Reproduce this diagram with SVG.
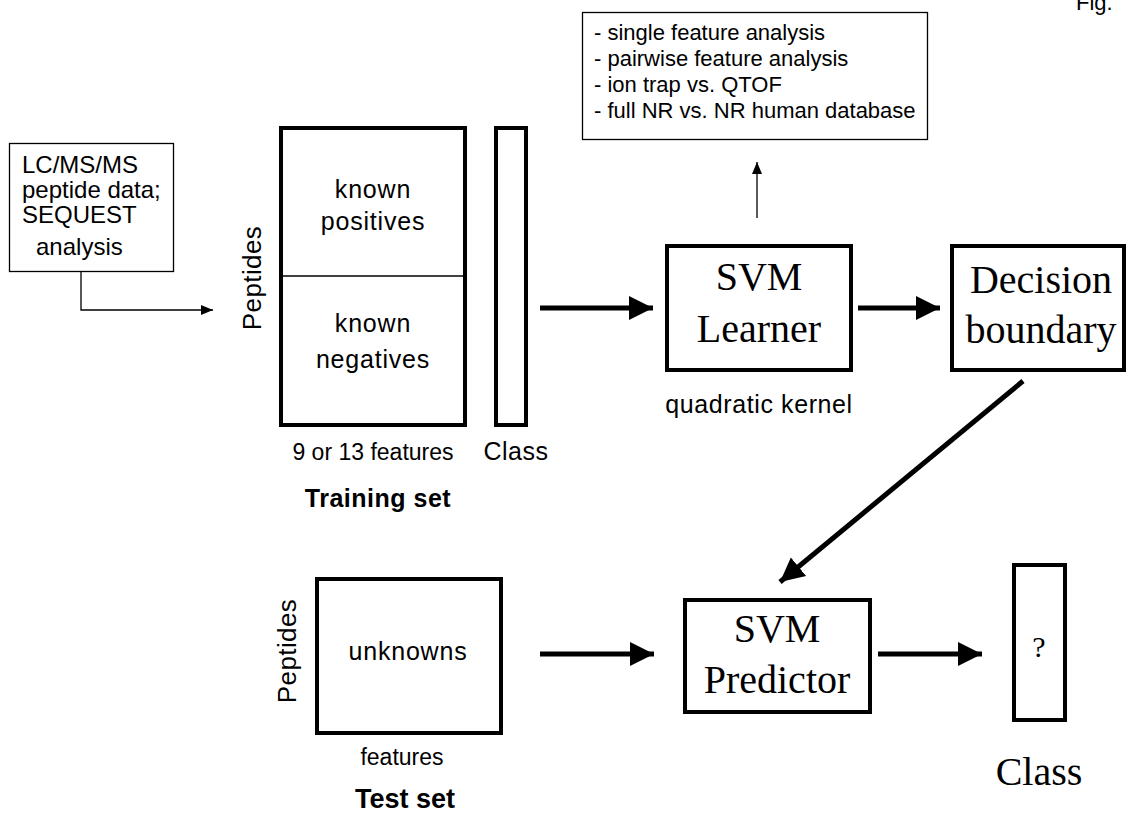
<svg xmlns="http://www.w3.org/2000/svg" width="1126" height="815" viewBox="0 0 1126 815">
<defs>
<style>
.bg{fill:#fff}
.thin{fill:#fff;stroke:#000;stroke-width:1.3}
.thick{fill:#fff;stroke:#000;stroke-width:4}
.sans{font-family:"Liberation Sans",Arial,sans-serif;fill:#000}
.serif{font-family:"Liberation Serif","Times New Roman",serif;fill:#000}
.bold{font-weight:bold}
.c{text-anchor:middle}
.sp{letter-spacing:0.8px}
.tl{stroke:#000;stroke-width:1.3;fill:none}
.tk{stroke:#000;stroke-width:5;fill:none}
</style>
<marker id="ah-thin" markerUnits="userSpaceOnUse" markerWidth="14" markerHeight="12" refX="12" refY="6" orient="auto">
<polygon points="0,1 12,6 0,11" fill="#000"/>
</marker>
<marker id="ah-thick" markerUnits="userSpaceOnUse" markerWidth="26" markerHeight="26" refX="24" refY="13" orient="auto">
<polygon points="0,1 24,13 0,25" fill="#000"/>
</marker>
</defs>
<rect class="bg" x="0" y="0" width="1126" height="815"/>

<text class="sans" x="1076" y="10" font-size="22">Fig.</text>

<g id="analysis-box">
<rect class="thin" x="582.5" y="12.5" width="345" height="127"/>
<text class="sans" font-size="22" x="594" y="40">- single feature analysis</text>
<text class="sans" font-size="22" x="594" y="66">- pairwise feature analysis</text>
<text class="sans" font-size="22" x="594" y="92">- ion trap vs. QTOF</text>
<text class="sans" font-size="22" x="594" y="118">- full NR vs. NR human database</text>
</g>

<g id="lcms-box">
<rect class="thin" x="9.5" y="143.5" width="164" height="128"/>
<text class="sans" font-size="24" x="22" y="173">LC/MS/MS</text>
<text class="sans" font-size="24" x="22" y="198">peptide data;</text>
<text class="sans" font-size="24" x="22" y="223">SEQUEST</text>
<text class="sans" font-size="24" x="36" y="255">analysis</text>
</g>

<g id="training-set">
<rect class="thick" x="281" y="128" width="184" height="297"/>
<line x1="281" y1="276" x2="465" y2="276" stroke="#000" stroke-width="1.5"/>
<text class="sans c sp" font-size="25" x="373" y="198">known</text>
<text class="sans c sp" font-size="25" x="373" y="230">positives</text>
<text class="sans c sp" font-size="25" x="373" y="332">known</text>
<text class="sans c sp" font-size="25" x="373" y="368">negatives</text>
<text class="sans c" font-size="26" letter-spacing="0.4" transform="translate(261 278) rotate(-90)">Peptides</text>
<text class="sans c" font-size="23" x="373" y="460">9 or 13 features</text>
<text class="sans bold c" font-size="25" letter-spacing="0.5" x="378" y="507">Training set</text>
</g>

<g id="training-class">
<rect class="thick" x="496" y="128" width="30" height="297"/>
<text class="sans c" font-size="25" letter-spacing="0.5" x="516" y="460">Class</text>
</g>

<g id="svm-learner">
<rect class="thick" x="667" y="246" width="184" height="124"/>
<text class="serif c" font-size="40" x="759" y="290">SVM</text>
<text class="serif c" font-size="40" x="759" y="342">Learner</text>
<text class="sans c" font-size="25" letter-spacing="0.6" x="759" y="413">quadratic kernel</text>
</g>

<g id="decision-boundary">
<rect class="thick" x="952" y="246" width="172" height="124"/>
<text class="serif c" font-size="40" x="1041" y="293">Decision</text>
<text class="serif c" font-size="40" x="1041" y="343">boundary</text>
</g>

<g id="test-set">
<rect class="thick" x="317" y="579" width="184" height="154"/>
<text class="sans c sp" font-size="25" x="408" y="660">unknowns</text>
<text class="sans c" font-size="26" letter-spacing="0.4" transform="translate(296 651) rotate(-90)">Peptides</text>
<text class="sans c" font-size="23" x="402" y="765">features</text>
<text class="sans bold c" font-size="27" x="405" y="808">Test set</text>
</g>

<g id="svm-predictor">
<rect class="thick" x="685" y="600" width="185" height="112"/>
<text class="serif c" font-size="40" x="777" y="642">SVM</text>
<text class="serif c" font-size="40" x="777" y="693">Predictor</text>
</g>

<g id="predicted-class">
<rect class="thick" x="1014" y="565" width="51" height="155"/>
<text class="serif c" font-size="30" x="1039" y="657">?</text>
<text class="serif c" font-size="40" x="1039" y="785">Class</text>
</g>

<g id="connectors">
<polyline class="tl" points="81,271 81,310 213,310" marker-end="url(#ah-thin)"/>
<line class="tl" x1="757" y1="218" x2="757" y2="162" marker-end="url(#ah-thin)"/>
<line class="tk" x1="540" y1="308" x2="653" y2="308" marker-end="url(#ah-thick)"/>
<line class="tk" x1="858" y1="308" x2="940" y2="308" marker-end="url(#ah-thick)"/>
<line class="tk" x1="1023" y1="381" x2="780" y2="582" marker-end="url(#ah-thick)"/>
<line class="tk" x1="540" y1="654" x2="654" y2="654" marker-end="url(#ah-thick)"/>
<line class="tk" x1="878" y1="654" x2="982" y2="654" marker-end="url(#ah-thick)"/>
</g>
</svg>
